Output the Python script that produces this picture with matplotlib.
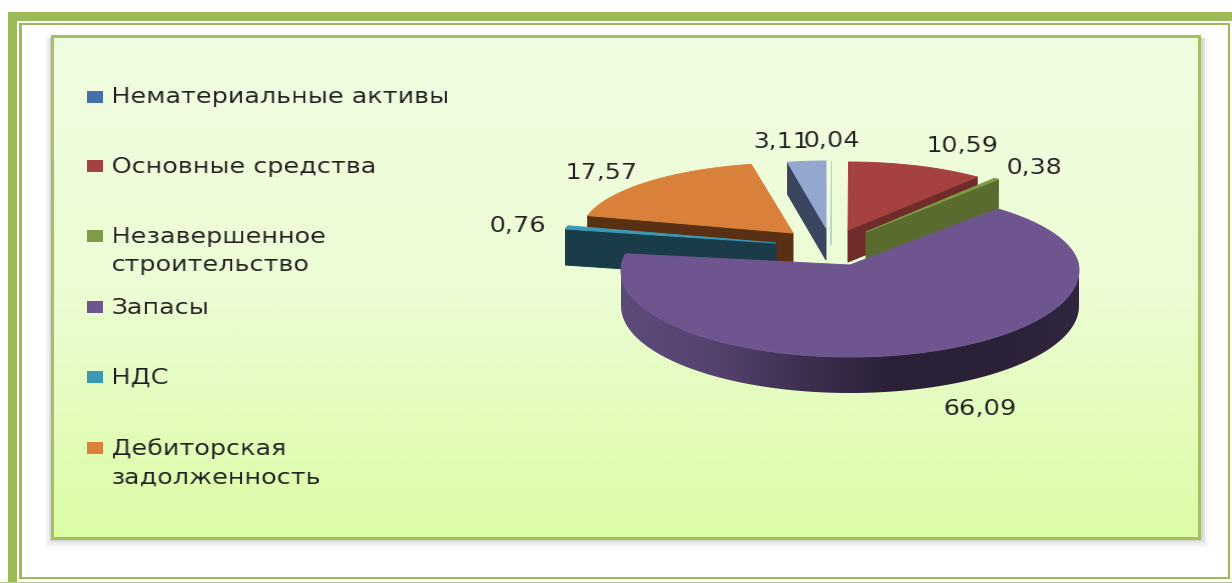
import numpy as np
import matplotlib
matplotlib.use("Agg")
import matplotlib.pyplot as plt
from matplotlib.patches import Polygon, Rectangle
from matplotlib.colors import LinearSegmentedColormap

# Chart data
categories = ["Нематериальные активы", "Основные средства", "Незавершенное\nстроительство",
              "Запасы", "НДС", "Дебиторская\nзадолженность", "Прочие"]
values = [0.04, 10.59, 0.38, 66.09, 0.76, 17.57, 3.11]
legend_count = 6

W, H = 1232, 583
fig = plt.figure(figsize=(W / 100, H / 100), dpi=100, facecolor="white")
ax = fig.add_axes([0, 0, 1, 1])
ax.set_xlim(0, W)
ax.set_ylim(H, 0)
ax.axis("off")

FRAME = "#9bbb59"
TEXT = "#1f1f1f"
FONT = "DejaVu Sans"
STRETCH = 1.22


def stretched(anchor):
    """Agg filter that widens rendered text, pinned at its left edge or centre."""
    def apply(img, dpi):
        h, w = img.shape[:2]
        new_w = int(round(w * STRETCH))
        xs = np.linspace(0, w - 1, new_w)
        out = np.empty((h, new_w, img.shape[2]), dtype=img.dtype)
        for c in range(img.shape[2]):
            for r in range(h):
                out[r, :, c] = np.interp(xs, np.arange(w), img[r, :, c])
        ox = 0 if anchor == "left" else -(new_w - w) // 2
        return out, ox, 0
    return apply


def band(x0, y0, x1, y1, color=FRAME, z=1):
    ax.add_patch(Rectangle((x0, y0), x1 - x0, y1 - y0, fc=color, ec="none", zorder=z))


# Double page border
band(8, 12, W, 21)
band(8, 12, 17, H)
band(19, 23, 1230, 25)
band(19, 23, 22, 579)
band(1228, 23, 1230, 579)
band(19, 577, 1230, 579)
band(0, 582, W, H, color="#b5cc80")

# Soft panel shadow
for grow, alpha in [(10, 0.012), (8, 0.02), (6, 0.03), (4, 0.045), (2, 0.06)]:
    ax.add_patch(Rectangle((51 - grow * 0.6, 38), 1150 + grow * 1.5, 501 + grow,
                           fc="black", ec="none", alpha=alpha, zorder=1.5))

# Panel with a vertical gradient
panel_cmap = LinearSegmentedColormap.from_list("panel", ["#f1fde2", "#ecfcd4", "#dcfca6"])
ax.imshow(np.linspace(0, 1, 256).reshape(-1, 1), extent=(52, 1199, 538, 36), cmap=panel_cmap,
          aspect="auto", zorder=2, interpolation="bilinear")
ax.set_xlim(0, W)
ax.set_ylim(H, 0)
ax.add_patch(Rectangle((52, 36), 1147, 502, fill=False, ec="#a3c163", lw=2.2, zorder=2.1))

# Angular extent of each slice, clockwise from twelve o'clock
total = sum(values)
edges = np.concatenate([[0], np.cumsum(values)]) / total * 2 * np.pi
starts = edges[:-1]
ends = edges[1:]


def rim(theta, cx, cy, a, bb, bf):
    theta = np.asarray(theta)
    b = np.where(np.cos(theta) >= 0, bb, bf)
    return np.column_stack([cx + a * np.sin(theta), cy - b * np.cos(theta)])


# Slice geometry: centre, radii (back, front), apex y, wall depth
geom = [
    dict(cx=831, cy=228, a=195, bb=67, bf=67, ay=228, d=17),
    dict(cx=848, cy=230, a=206, bb=68, bf=68, ay=230, d=32),
    dict(cx=866, cy=232, a=205, bb=69, bf=69, ay=232, d=29),
    dict(cx=850, cy=270, a=229, bb=80, bf=87, ay=265, d=36),
    dict(cx=776, cy=243, a=215, bb=69, bf=69, ay=243, d=36),
    dict(cx=793, cy=233, a=212, bb=70, bf=70, ay=233, d=30),
    dict(cx=826, cy=228, a=195, bb=67, bf=67, ay=228, d=32),
]
face_colors = ["#bccedd", "#a54240", "#7f9b45", "#6f5590", "#3a9ab5", "#d9813b", "#93a7d0"]
wall_colors = ["#bccedd", "#702c2a", "#5a6b30", "#3d2e4d", "#1a3c48", "#5a3015", "#3a4560"]
# Which cut of the slice faces the viewer
wall_side = ["end", "end", "end", None, "start", "start", "start"]
order = [6, 0, 5, 4, 1, 2, 3]

for i in order:
    g = geom[i]
    rim_args = (g["cx"], g["cy"], g["a"], g["bb"], g["bf"])
    apex = np.array([g["cx"], g["ay"]])
    z = 3 + order.index(i) * 0.1
    side = wall_side[i]
    if side:
        th = starts[i] if side == "start" else ends[i]
        p = rim([th], *rim_args)[0]
        d = np.array([0, g["d"]])
        ax.add_patch(Polygon([apex, p, p + d, apex + d], fc=wall_colors[i], ec=wall_colors[i],
                             lw=0.7, zorder=z))
    else:
        # Curved outer wall of the large slice, shaded from left to right
        th = np.linspace(np.pi / 2, 3 * np.pi / 2, 200)
        top = rim(th, *rim_args)
        low = top + [0, g["d"]]
        wall = Polygon(np.vstack([top, low[::-1]]), fc="none", ec="none", zorder=z)
        ax.add_patch(wall)
        wall_cmap = LinearSegmentedColormap.from_list(
            "wall", ["#5f4b7a", "#55436f", "#3e2f4f", "#2a2038", "#2a2038", "#31263f"])
        im = ax.imshow(np.linspace(0, 1, 256).reshape(1, -1),
                       extent=(g["cx"] - g["a"], g["cx"] + g["a"], 420, 260),
                       cmap=wall_cmap, aspect="auto", zorder=z, interpolation="bilinear")
        im.set_clip_path(wall)
        ax.set_xlim(0, W)
        ax.set_ylim(H, 0)
    arc = rim(np.linspace(starts[i], ends[i], 200), *rim_args)
    ax.add_patch(Polygon(np.vstack([apex, arc]), fc=face_colors[i], ec=face_colors[i], lw=0.7, zorder=z + 0.01))

# Value labels
label_pos = [(832, 141), (963, 146), (1035, 168), (981, 409), (518, 226), (602, 173), (782, 142)]
for v, (x, y) in zip(values, label_pos):
    t = ax.text(x, y, f"{v:.2f}".replace(".", ","), ha="center", va="center", fontsize=15,
                family=FONT, color=TEXT, zorder=6)
    t.set_agg_filter(stretched("center"))

# Legend
legend_y = [97, 167, 251, 308, 378, 463]
legend_marks = [97, 166, 236, 307, 377, 448]
for i in range(legend_count):
    ax.add_patch(Rectangle((87, legend_marks[i] - 6), 16, 12, fc=face_colors[i] if i else "#4571a8",
                           ec="none", zorder=6))
    t = ax.text(112, legend_y[i], categories[i], ha="left", va="center", fontsize=15, family=FONT,
                color=TEXT, linespacing=1.5, zorder=6)
    t.set_agg_filter(stretched("left"))

fig.savefig("out.png", dpi=100, facecolor="white")
